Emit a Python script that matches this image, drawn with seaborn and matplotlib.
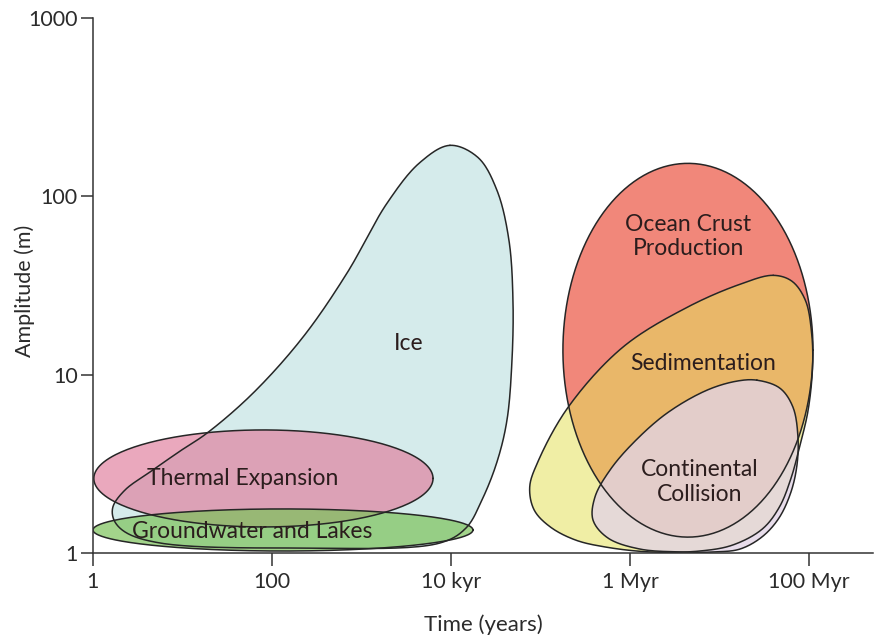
import numpy as np
import pandas as pd
import matplotlib
matplotlib.use('Agg')
import matplotlib.pyplot as plt
import seaborn as sns

# outlines, in log10(years), log10(m)
ice_logt = [3.989, 4.302, 4.514, 4.648, 4.693, 4.682, 4.626, 4.514, 4.346, 4.168, 3.877, 2.313,
            0.749, 0.358, 0.235, 0.223, 0.358, 0.637, 0.972, 1.274, 1.788, 2.346, 2.838, 3.285, 3.654]
ice_loga = [2.286, 2.218, 2.034, 1.754, 1.417, 1.081, 0.745, 0.510, 0.297, 0.140, 0.056, 0.028,
            0.056, 0.118, 0.185, 0.258, 0.353, 0.454, 0.571, 0.672, 0.896, 1.210, 1.569, 1.961, 2.190]

sed_logt = [7.60, 7.81, 7.96, 8.03, 8.04, 7.99, 7.90, 7.80, 7.67, 7.48, 7.15, 6.78, 6.22, 5.72,
            5.39, 5.11, 4.93, 4.88, 4.97, 5.31, 5.92, 6.64, 7.23]
sed_loga = [1.557, 1.524, 1.417, 1.232, 1.042, 0.799, 0.605, 0.420, 0.258, 0.135, 0.045, 0.011, 0.006, 0.034,
            0.073, 0.146, 0.241, 0.370, 0.510, 0.818, 1.154, 1.378, 1.507]

col_logt = [7.419, 7.676, 7.821, 7.877, 7.866, 7.799, 7.665, 7.475, 7.229, 6.950, 6.559, 6.112,
            5.754, 5.587, 5.609, 5.777, 6.034, 6.413, 6.860, 7.196]
col_loga = [0.969, 0.924, 0.818, 0.650, 0.493, 0.342, 0.196, 0.090, 0.022, 0.006, 0.006, 0.022,
            0.084, 0.185, 0.314, 0.465, 0.616, 0.784, 0.913, 0.964]

# ellipses: centre and half-extent in log10 units
ell_names = ['Thermal Expansion', 'Groundwater and Lakes', 'Ocean Crust']
ell_cx = [1.905, 2.123, 6.648]
ell_cy = [0.418, 0.129, 1.137]
ell_rx = [1.895, 2.123, 1.397]
ell_ry = [0.272, 0.118, 1.048]

labels = ['Ice', 'Ocean Crust\nProduction', 'Sedimentation', 'Continental\nCollision',
          'Thermal Expansion', 'Groundwater and Lakes']
label_logt = [3.53, 6.65, 6.82, 6.78, 1.676, 1.777]
label_loga = [1.176, 1.776, 1.064, 0.398, 0.415, 0.118]

xticks = [1, 1e2, 1e4, 1e6, 1e8]
xticklabels = ['1', '100', '10 kyr', '1 Myr', '100 Myr']
yticks = [1, 10, 100, 1000]


def smooth_closed(xs, ys, n=24):
    # centripetal catmull-rom through the read points (y doubled ~ screen aspect)
    p = np.column_stack([xs, ys])
    scale = np.array([1.0, 2.0])
    m = len(p)
    out = []
    for i in range(m):
        pts = [p[(i + k) % m] for k in (-1, 0, 1, 2)]
        kn = [0.0]
        for a, b in zip(pts[:-1], pts[1:]):
            kn.append(kn[-1] + np.linalg.norm((b - a) * scale) ** 0.5 + 1e-9)
        t0, t1, t2, t3 = kn
        t = np.linspace(t1, t2, n, endpoint=False)[:, None]
        p0, p1, p2, p3 = pts
        a1 = (t1 - t) / (t1 - t0) * p0 + (t - t0) / (t1 - t0) * p1
        a2 = (t2 - t) / (t2 - t1) * p1 + (t - t1) / (t2 - t1) * p2
        a3 = (t3 - t) / (t3 - t2) * p2 + (t - t2) / (t3 - t2) * p3
        b1 = (t2 - t) / (t2 - t0) * a1 + (t - t0) / (t2 - t0) * a2
        b2 = (t3 - t) / (t3 - t1) * a2 + (t - t1) / (t3 - t1) * a3
        out.append((t2 - t) / (t2 - t1) * b1 + (t - t1) / (t2 - t1) * b2)
    out = np.vstack(out + [out[0][:1]])
    return out[:, 0], out[:, 1]


def ellipse(i, n=300):
    t = np.linspace(0, 2 * np.pi, n)
    return ell_cx[i] + ell_rx[i] * np.cos(t), ell_cy[i] + ell_ry[i] * np.sin(t)


def draw_shape(ax, lx, ly, color, alpha):
    x, y = 10 ** np.asarray(lx), 10 ** np.asarray(ly)
    ax.fill(x, y, color=color, alpha=alpha, lw=0)
    df = pd.DataFrame({'t': x, 'a': y})
    sns.lineplot(data=df, x='t', y='a', sort=False, estimator=None, color='#262626', lw=1.1, ax=ax)


sns.set_theme(style='white')
plt.rcParams['font.family'] = ['Lato', 'DejaVu Sans']

fig = plt.figure(figsize=(8.85, 6.39), dpi=100)
ax = fig.add_axes([0.105, 0.1346, 0.8814, 0.8372])
ax.set_xscale('log')
ax.set_yscale('log')

draw_shape(ax, *smooth_closed(ice_logt, ice_loga), '#d5ebeb', 1.0)
draw_shape(ax, *ellipse(0), '#e07a9a', 0.65)
draw_shape(ax, *ellipse(1), '#7cc35a', 0.7)
draw_shape(ax, *ellipse(2), '#f1877a', 1.0)
draw_shape(ax, *smooth_closed(sed_logt, sed_loga), '#e4e05b', 0.55)
draw_shape(ax, *smooth_closed(col_logt, col_loga), '#e2d4e6', 0.78)

for txt, lx, ly in zip(labels, label_logt, label_loga):
    ax.text(10 ** lx, 10 ** ly, txt, ha='center', va='center', fontsize=16.5,
            color='#2b1d1d', linespacing=1.2)

ax.set_xlim(1, 10 ** 8.715)
ax.set_ylim(1, 1000)
ax.set_xticks(xticks)
ax.set_xticklabels(xticklabels)
ax.set_yticks(yticks)
ax.set_yticklabels([str(v) for v in yticks])
ax.minorticks_off()
ax.tick_params(axis='both', direction='out', length=9, width=1.1, color='#333333',
               labelsize=15.5, labelcolor='#2b2b2b', left=True, bottom=True)
ax.tick_params(axis='x', pad=5)
ax.tick_params(axis='y', pad=2)
ax.set_xlabel('Time (years)', fontsize=16, color='#2b2b2b')
ax.set_ylabel('Amplitude (m)', fontsize=15.5, color='#2b2b2b')
ax.xaxis.set_label_coords(0.5, -0.114)
ax.yaxis.set_label_coords(-0.074, 0.49)
sns.despine(ax=ax)
for s in ['left', 'bottom']:
    ax.spines[s].set_color('#333333')
    ax.spines[s].set_linewidth(1.1)
ax.grid(False)

fig.savefig('out.png', dpi=100)
